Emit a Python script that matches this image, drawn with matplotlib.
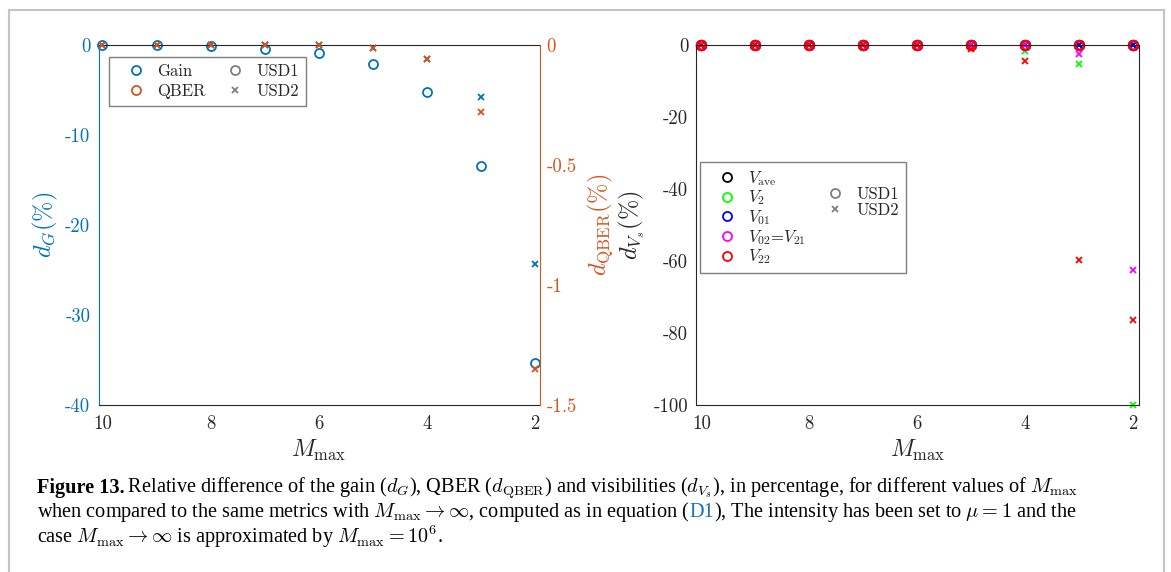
import matplotlib
matplotlib.use('Agg')
import matplotlib.pyplot as plt
from matplotlib.lines import Line2D

plt.rcParams['font.family'] = 'serif'
plt.rcParams['font.serif'] = ['cmr10']
plt.rcParams['mathtext.fontset'] = 'cm'
plt.rcParams['axes.formatter.use_mathtext'] = True

# data
m_max = [10, 9, 8, 7, 6, 5, 4, 3, 2]
gain_usd1 = [0, 0, -0.1, -0.44, -0.93, -2.1, -5.2, -13.4, -35.3]
gain_usd2 = [0, 0, 0, 0, 0, -0.37, -1.6, -5.8, -24.3]
qber_usd2 = [0, 0, 0, 0, 0, -0.014, -0.06, -0.28, -1.35]

vave_usd1 = [0, 0, 0, 0, 0, 0, 0, 0, 0]
v2_usd1 = [0, 0, 0, 0, 0, 0, 0, 0, 0]
v01_usd1 = [0, 0, 0, 0, 0, 0, 0, 0, 0]
v0221_usd1 = [0, 0, 0, 0, 0, 0, 0, 0, 0]
v22_usd1 = [0, 0, 0, 0, 0, 0, 0, 0, 0]
vave_usd2 = [0, 0, 0, 0, 0, 0, 0, 0, 0]
v2_usd2 = [0, 0, 0, 0, 0, 0, -1.6, -5.3, -100]
v01_usd2 = [0, 0, 0, 0, 0, 0, 0, 0, 0]
v0221_usd2 = [0, 0, 0, 0, 0, 0, 0, -2.6, -62.5]
v22_usd2 = [0, 0, 0, 0, 0, -1.1, -4.4, -59.7, -76.4]

xticks = [10, 8, 6, 4, 2]
left_ticks = [0, -10, -20, -30, -40]
qber_ticks = [0, -0.5, -1, -1.5]
vis_ticks = [0, -20, -40, -60, -80, -100]

blue = '#0072BD'
orange = '#D95319'
txt = '#262626'
grey = '#7f7f7f'

W, H = 1171, 572
fig = plt.figure(figsize=(W / 100, H / 100), dpi=100)

def fx(px):
    return px / W

def fy(py):
    return 1 - py / H

ax1 = fig.add_axes([fx(98.7), fy(405), fx(539.6 - 98.7), (405 - 45) / H])
ax2 = fig.add_axes([fx(696.5), fy(405), fx(1139.4 - 696.5), (405 - 45) / H])

ms_o, ms_x, mew = 6.5, 4.5, 1.3

# left panel
ax1.plot(m_max, gain_usd1, 'o', mfc='none', mec=blue, ms=ms_o, mew=mew, clip_on=False)
ax1.plot(m_max, gain_usd2, 'x', color=blue, ms=ms_x, mew=mew, clip_on=False)
ax1.set_xlim(10.07, 1.915)
ax1.set_ylim(-40, 0)
ax1.set_xticks(xticks)
ax1.set_xticklabels([str(t) for t in xticks])
ax1.set_yticks(left_ticks)
ax1.set_yticklabels([str(t) for t in left_ticks])
ax1.tick_params(axis='both', length=0, labelsize=13.5)
ax1.tick_params(axis='x', colors=txt, pad=7)
ax1.tick_params(axis='y', colors=blue, pad=6)
ax1.spines['left'].set_color(blue)
ax1.spines['right'].set_visible(False)
for s in ['top', 'bottom']:
    ax1.spines[s].set_color(txt)
ax1.set_xlabel(r'$M_{\rm max}$', fontsize=17, color=txt)
ax1.set_ylabel(r'$d_G(\%)$', fontsize=17.5, color=blue, labelpad=4)

ax1b = ax1.twinx()
ax1b.plot(m_max, qber_usd2, 'x', color=orange, ms=ms_x, mew=mew, clip_on=False)
ax1b.set_ylim(-1.5, 0)
ax1b.set_yticks(qber_ticks)
ax1b.set_yticklabels(['0', '-0.5', '-1', '-1.5'])
ax1b.tick_params(axis='y', length=0, labelsize=13.5, colors=orange, pad=5)
ax1b.spines['right'].set_color(orange)
ax1b.spines['left'].set_visible(False)
ax1b.spines['top'].set_visible(False)
ax1b.spines['bottom'].set_visible(False)
ax1b.set_ylabel(r'$d_{\rm QBER}(\%)$', fontsize=17.5, color=orange, labelpad=6)

leg_kw = dict(ncol=2, loc='upper left', bbox_transform=fig.transFigure, fontsize=12,
              fancybox=False, edgecolor=grey, framealpha=1, borderpad=0.4,
              handlelength=2.4, handletextpad=0.1, columnspacing=0.55,
              borderaxespad=0)

h_left = [
    Line2D([], [], ls='none', marker='o', mfc='none', mec=blue, ms=ms_o, mew=mew),
    Line2D([], [], ls='none', marker='o', mfc='none', mec=orange, ms=ms_o, mew=mew),
    Line2D([], [], ls='none', marker='o', mfc='none', mec=grey, ms=ms_o, mew=mew),
    Line2D([], [], ls='none', marker='x', color=grey, ms=ms_x, mew=mew),
]
leg1 = ax1b.legend(h_left, ['Gain', 'QBER', 'USD1', 'USD2'],
                   bbox_to_anchor=(fx(109), fy(57)), labelspacing=0.3, **leg_kw)
leg1.get_frame().set_linewidth(1.0)
for t in leg1.get_texts():
    t.set_color(txt)

# right panel
vis_usd1 = [vave_usd1, v2_usd1, v01_usd1, v0221_usd1, v22_usd1]
vis_usd2 = [vave_usd2, v2_usd2, v01_usd2, v0221_usd2, v22_usd2]
vis_cols = ['black', '#00FF00', '#0000FF', '#FF00FF', '#FF0000']
vis_names = [r'$V_{\rm ave}$', r'$V_2$', r'$V_{01}$', r'$V_{02}$=$V_{21}$', r'$V_{22}$']
for y1, y2, c in zip(vis_usd1, vis_usd2, vis_cols):
    ax2.plot(m_max, y1, 'o', mfc='none', mec=c, ms=ms_o, mew=mew + 0.3, clip_on=False)
    ax2.plot(m_max, y2, 'x', color=c, ms=ms_x, mew=mew, clip_on=False)
ax2.set_xlim(10.09, 1.887)
ax2.set_ylim(-100, 0)
ax2.set_xticks(xticks)
ax2.set_xticklabels([str(t) for t in xticks])
ax2.set_yticks(vis_ticks)
ax2.set_yticklabels([str(t) for t in vis_ticks])
ax2.tick_params(axis='both', length=0, labelsize=13.5, colors=txt)
ax2.tick_params(axis='x', pad=7)
ax2.tick_params(axis='y', pad=6)
for s in ax2.spines.values():
    s.set_color(txt)
ax2.set_xlabel(r'$M_{\rm max}$', fontsize=17, color=txt)
ax2.set_ylabel(r'$d_{V_s}(\%)$', fontsize=17.5, color=txt, labelpad=5)

blank = Line2D([], [], ls='none')
h_right = [Line2D([], [], ls='none', marker='o', mfc='none', mec=c, ms=ms_o, mew=mew)
           for c in vis_cols]
h_right += [blank,
            Line2D([], [], ls='none', marker='o', mfc='none', mec=grey, ms=ms_o, mew=mew),
            Line2D([], [], ls='none', marker='x', color=grey, ms=ms_x, mew=mew),
            blank, blank]
leg2 = ax2.legend(h_right, vis_names + ['', 'USD1', 'USD2', '', ''],
                  bbox_to_anchor=(fx(700), fy(162)), labelspacing=0.05, **leg_kw)
leg2.get_frame().set_linewidth(1.0)
for t in leg2.get_texts():
    t.set_color(txt)

# outer frame
frame_kw = dict(color='#c4c4c4', lw=1.5, transform=fig.transFigure)
fig.add_artist(Line2D([fx(8.5), fx(8.5)], [fy(9.5), 0], **frame_kw))
fig.add_artist(Line2D([fx(8.5), fx(1164)], [fy(9.5), fy(9.5)], **frame_kw))
fig.add_artist(Line2D([fx(1164), fx(1164)], [fy(9.5), 0], **frame_kw))

# caption
renderer = fig.canvas.get_renderer()
cap_font = dict(family=['Liberation Serif', 'DejaVu Serif'], fontsize=14.6, color='black',
                va='baseline')

def caption_line(x_px, y_px, parts):
    x = fx(x_px)
    for text, extra in parts:
        kw = dict(cap_font)
        kw.update(extra)
        t = fig.text(x, fy(y_px), text, **kw)
        x += t.get_window_extent(renderer).width / fig.bbox.width

caption_line(37, 493, [
    ('Figure 13.', {'fontweight': 'bold'}),
    (r'$\,$Relative difference of the gain ($d_G$), QBER ($d_{\rm QBER}$) and visibilities '
     r'($d_{V_s}$), in percentage, for different values of $M_{\rm max}$', {}),
])
caption_line(37, 517, [
    (r'when compared to the same metrics with $M_{\rm max}\rightarrow\infty$, computed as in equation (', {}),
    ('D1', {'color': '#1a73b8'}),
    (r'), The intensity has been set to $\mu=1$ and the', {}),
])
caption_line(37, 543, [
    (r'case $M_{\rm max}\rightarrow\infty$ is approximated by $M_{\rm max}=10^6$.', {}),
])

fig.savefig('out.png', dpi=100)
